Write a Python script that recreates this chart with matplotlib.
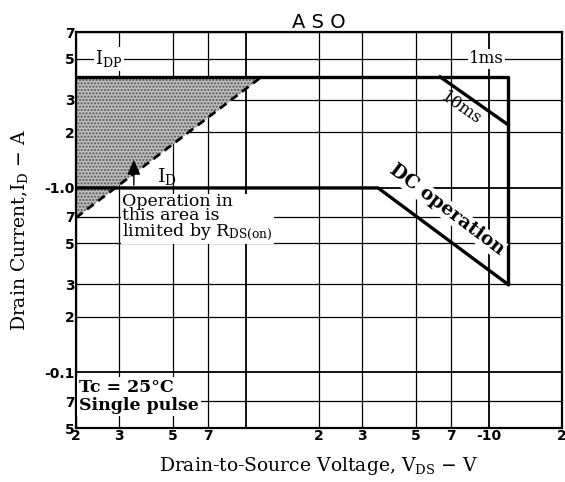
import numpy as np
import matplotlib.pyplot as plt
from matplotlib.patches import Polygon

# axis ranges and tick labels (log-log, datasheet style)
x_ticks = [0.2, 0.3, 0.5, 0.7, 1.0, 2, 3, 5, 7, 10, 20]
x_labels = ['2', '3', '5', '7', '', '2', '3', '5', '7', '-10', '2']
y_ticks = [0.05, 0.07, 0.1, 0.2, 0.3, 0.5, 0.7, 1.0, 2, 3, 5, 7]
y_labels = ['5', '7', '-0.1', '2', '3', '5', '7', '-1.0', '2', '3', '5', '7']

# boundary curves
rds_v = [0.2, 1.16]
rds_i = [0.69, 4.0]
pulse_1ms_v = [0.2, 12, 12]
pulse_1ms_i = [4.0, 4.0, 0.3]
pulse_10ms_v = [6.3, 12]
pulse_10ms_i = [4.0, 2.2]
dc_v = [0.2, 3.5, 12]
dc_i = [1.0, 1.0, 0.3]
idp_level = 5.0

serif = 'DejaVu Serif'

fig = plt.figure(figsize=(5.65, 4.82), dpi=100)
ax = fig.add_axes([0.1345, 0.112, 0.8602, 0.8216])
ax.set_xscale('log')
ax.set_yscale('log')
ax.set_xlim(0.2, 20)
ax.set_ylim(0.05, 7)

# grid
for v in x_ticks:
    ax.axvline(v, color='black', lw=1.3 if v in (1.0, 10) else 0.9, zorder=1)
for v in y_ticks:
    ax.axhline(v, color='black', lw=1.3 if v in (0.1, 1.0) else 0.9, zorder=1)

ax.set_xticks(x_ticks)
ax.set_xticklabels(x_labels)
ax.set_yticks(y_ticks)
ax.set_yticklabels(y_labels)
ax.minorticks_off()
ax.tick_params(length=0, pad=1, labelsize=10)
for lab in ax.get_xticklabels() + ax.get_yticklabels():
    lab.set_fontweight('bold')
for s in ax.spines.values():
    s.set_linewidth(1.6)

# shaded R_DS(on) limited area
shade = Polygon([(rds_v[0], rds_i[0]), (rds_v[0], rds_i[1]), (rds_v[1], rds_i[1])],
                closed=True, facecolor='#bdbdbd', edgecolor='#555555',
                hatch='.....', lw=0, zorder=2)
ax.add_patch(shade)

ax.plot(rds_v, rds_i, color='black', lw=2.0, ls=(0, (3, 2)), zorder=3)
ax.plot(pulse_1ms_v, pulse_1ms_i, color='black', lw=2.4, zorder=3)
ax.plot(pulse_10ms_v, pulse_10ms_i, color='black', lw=2.4, zorder=3)
ax.plot(dc_v, dc_i, color='black', lw=2.4, zorder=3)

wbox = dict(facecolor='white', edgecolor='none', pad=1)

ax.text(0.24, idp_level, r'$\mathregular{I_{DP}}$', family=serif, fontsize=13,
        ha='left', va='center', bbox=wbox, zorder=4)
ax.text(9.8, idp_level, '1ms', family=serif, fontsize=12,
        ha='center', va='center', bbox=wbox, zorder=4)
ax.text(7.7, 2.7, '10ms', family=serif, fontsize=12, rotation=-35,
        ha='center', va='center', zorder=4)
ax.text(6.7, 0.76, 'DC operation', family=serif, fontsize=13.5, fontweight='bold',
        rotation=-37, ha='center', va='center',
        bbox=dict(facecolor='white', edgecolor='none', pad=0.5), zorder=4)

ax.annotate('', xy=(0.346, 1.47), xytext=(0.346, 1.0),
            arrowprops=dict(arrowstyle='-|>,head_width=0.4,head_length=0.9',
                            color='black', lw=1.0), zorder=4)
ax.text(0.43, 1.15, r'$\mathregular{I_D}$', family=serif, fontsize=14,
        ha='left', va='center', zorder=4)

ax.text(0.31, 0.94, 'Operation in\nthis area is\nlimited by ' + r'$\mathregular{R_{DS(on)}}$',
        family=serif, fontsize=12.5, ha='left', va='top', linespacing=0.8,
        bbox=dict(facecolor='white', edgecolor='none', pad=1), zorder=4)

ax.text(0.205, 0.092, 'Tc = 25°C\nSingle pulse', family=serif, fontsize=12.5,
        fontweight='bold', ha='left', va='top', linespacing=1.05,
        bbox=dict(facecolor='white', edgecolor='none', pad=1.5), zorder=4)

ax.set_title('A S O', fontsize=14, pad=3)
ax.set_xlabel(r'Drain-to-Source Voltage, $\mathregular{V_{DS}}$ $-$ V',
              family=serif, fontsize=13.5, labelpad=8)
ax.set_ylabel(r'Drain Current,$\mathregular{I_D}$ $-$ A',
              family=serif, fontsize=13.5, labelpad=10)

fig.savefig('out.png', dpi=100)
